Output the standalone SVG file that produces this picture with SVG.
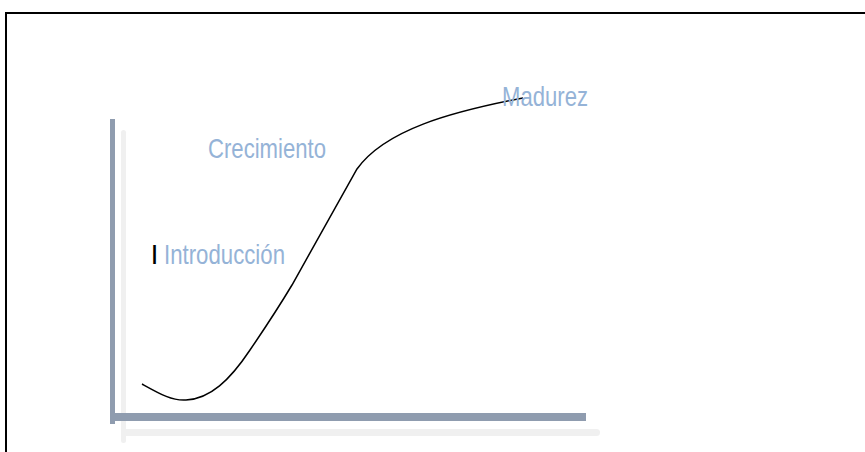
<svg xmlns="http://www.w3.org/2000/svg" width="865" height="452" viewBox="0 0 865 452">
<style>
.lbl{font-family:"Liberation Sans",Arial,sans-serif;font-size:28px;fill:#95b3d7}
.ax{fill:#8f9caf}
.sh{fill:#f0f0f0}
</style>
<rect x="0" y="0" width="865" height="452" fill="#fff"/>
<rect x="6" y="13" width="900" height="500" fill="none" stroke="#000" stroke-width="2"/>
<g id="axes">
<rect class="sh" x="121" y="130" width="5" height="313" rx="2.5"/>
<rect class="sh" x="121" y="429" width="479" height="7" rx="3.5"/>
<rect class="ax" x="110" y="119" width="5" height="305"/>
<rect class="ax" x="115" y="413" width="471" height="8"/>
</g>
<g id="connectors">
<path d="M142,384 C160,394 172,401 186,400 C210,399 230,380 250,350 C265,328 280,305 292,285 L357,169 C385,130 450,112 523,98" fill="none" stroke="#000" stroke-width="1.5"/>
</g>
<g id="madurez"><text class="lbl" x="502" y="106" font-size="29" textLength="86" lengthAdjust="spacingAndGlyphs">Madurez</text></g>
<g id="crecimiento"><text class="lbl" x="208" y="158" textLength="118" lengthAdjust="spacingAndGlyphs">Crecimiento</text></g>
<g id="introduccion">
<text x="152" y="264" font-family="Liberation Sans,Arial,sans-serif" font-size="28" font-weight="bold" fill="#000" textLength="5" lengthAdjust="spacingAndGlyphs">I</text>
<text class="lbl" x="164" y="264" textLength="121" lengthAdjust="spacingAndGlyphs">Introducción</text>
</g>
</svg>
